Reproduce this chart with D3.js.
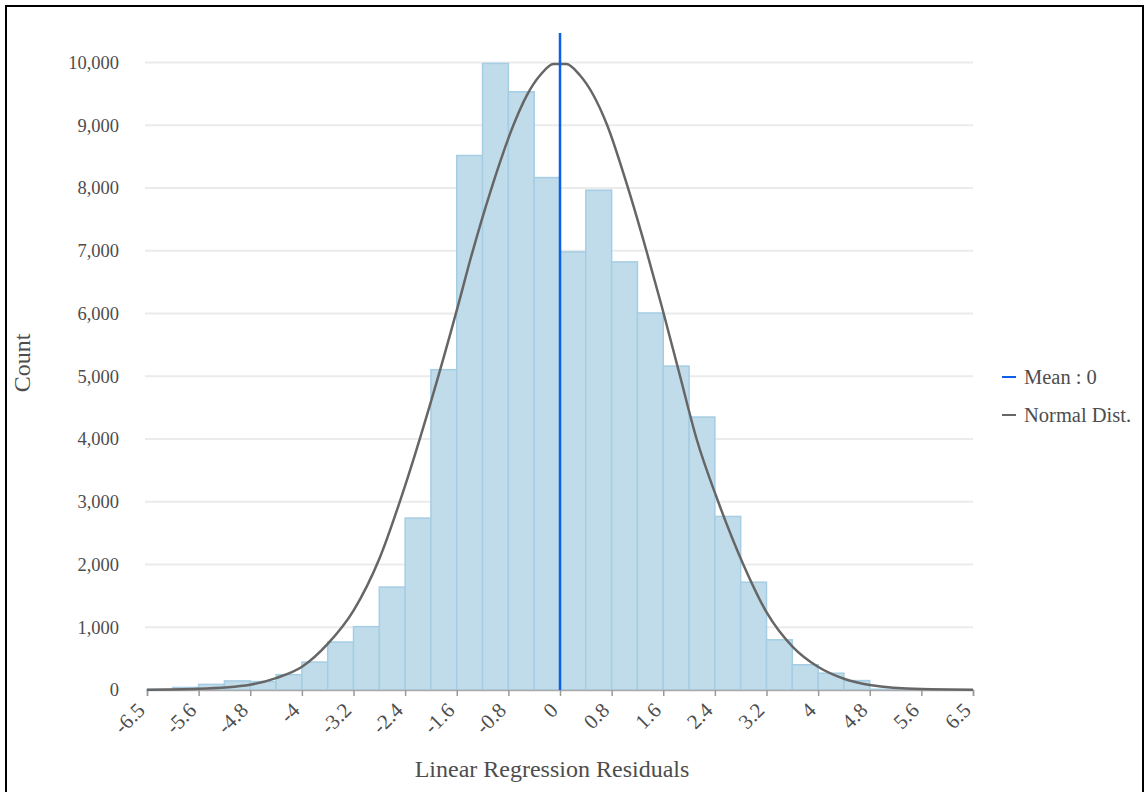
<!doctype html>
<html>
  <head>
    <meta charset="utf-8">
    <title>Linear Regression Residuals</title>
    <script src="https://cdn.jsdelivr.net/npm/d3@7"></script>
    <style>
      body { margin: 0; background: #fff; }
      text { font-family: "Liberation Serif", "Times New Roman", serif; fill: #4d4d4d; }
    </style>
  </head>
  <body>
    <div id="chart"></div>
  </body>
  <script>
    // histogram bins (edges) and counts
    var binEdges = [-6.5, -6.09375, -5.6875, -5.28125, -4.875, -4.46875, -4.0625, -3.65625,
      -3.25, -2.84375, -2.4375, -2.03125, -1.625, -1.21875, -0.8125, -0.40625, 0,
      0.40625, 0.8125, 1.21875, 1.625, 2.03125, 2.4375, 2.84375, 3.25, 3.65625,
      4.0625, 4.46875, 4.875, 5.28125, 5.6875, 6.09375, 6.5];
    var counts = [8, 40, 90, 145, 135, 245, 445, 765, 1010, 1640, 2740, 5105, 8518, 9985,
      9533, 8166, 6982, 7965, 6822, 6008, 5162, 4350, 2766, 1718, 800, 402, 268, 150,
      12, 4, 2, 1];

    // normal distribution curve
    var normX = [-6.5, -5.69, -4.875, -4.47, -4.06, -3.66, -3.25, -2.84, -2.44, -2.03,
      -1.625, -1.4, -1.09, -0.71, -0.52, -0.31, -0.1, 0.1, 0.31, 0.52, 0.735, 1.07,
      1.36, 1.6, 1.89, 2.15, 2.49, 2.885, 3.25, 3.67, 4.06, 4.48, 4.875, 5.69, 6.5];
    var normY = [5, 20, 85, 190, 370, 730, 1265, 2100, 3250, 4600, 6050, 6900, 7960,
      9060, 9480, 9800, 9975, 9975, 9800, 9490, 9020, 8000, 7000, 6120, 5000, 4000,
      3000, 2000, 1240, 680, 370, 175, 80, 15, 5];

    var meanValue = 0;

    var xTickValues = [-6.5, -5.6875, -4.875, -4.0625, -3.25, -2.4375, -1.625, -0.8125, 0,
      0.8125, 1.625, 2.4375, 3.25, 4.0625, 4.875, 5.6875, 6.5];
    var xTickLabels = ["-6.5", "-5.6", "-4.8", "-4", "-3.2", "-2.4", "-1.6", "-0.8", "0",
      "0.8", "1.6", "2.4", "3.2", "4", "4.8", "5.6", "6.5"];
    var yTickValues = [0, 1000, 2000, 3000, 4000, 5000, 6000, 7000, 8000, 9000, 10000];

    var legendItems = [
      { label: "Mean : 0", colour: "#0b5fe8" },
      { label: "Normal Dist.", colour: "#666666" }
    ];

    var width = 1146, height = 792;
    var margin = { left: 147, right: 173, top: 33, bottom: 102 };

    var svg = d3.select("#chart")
      .append("svg")
      .attr("width", width)
      .attr("height", height);

    // outer frame
    svg.append("rect")
      .attr("x", 6).attr("y", 6)
      .attr("width", 1137).attr("height", 800)
      .attr("fill", "none")
      .attr("stroke", "#000")
      .attr("stroke-width", 2);

    var x = d3.scaleLinear()
      .domain([-6.5, 6.5])
      .range([margin.left, width - margin.right]);

    var y = d3.scaleLinear()
      .domain([0, 10470])
      .range([height - margin.bottom, margin.top]);

    // gridlines
    svg.append("g")
      .selectAll("line")
      .data(yTickValues.slice(1))
      .enter()
      .append("line")
      .attr("x1", x(-6.5) - 2)
      .attr("x2", x(6.5))
      .attr("y1", function(d) { return y(d); })
      .attr("y2", function(d) { return y(d); })
      .attr("stroke", "#ebebeb")
      .attr("stroke-width", 2);

    // y axis labels
    var yAxis = d3.axisLeft(y)
      .tickValues(yTickValues)
      .tickFormat(d3.format(","))
      .tickSize(0)
      .tickPadding(28);

    var gy = svg.append("g")
      .attr("transform", "translate(" + x(-6.5) + ",0)")
      .call(yAxis);
    gy.select(".domain").remove();
    gy.selectAll("text")
      .style("font-size", "18.5px")
      .attr("fill", "#4d4d4d");

    // bars
    var bins = counts.map(function(c, i) {
      return { x0: binEdges[i], x1: binEdges[i + 1], count: c };
    });

    svg.append("g")
      .selectAll("rect")
      .data(bins)
      .enter()
      .append("rect")
      .attr("x", function(d) { return x(d.x0); })
      .attr("width", function(d) { return x(d.x1) - x(d.x0); })
      .attr("y", function(d) { return y(d.count); })
      .attr("height", function(d) { return y(0) - y(d.count); })
      .attr("fill", "#c0dcea")
      .attr("stroke", "#a5cde3")
      .attr("stroke-width", 1.5);

    // x axis
    var xAxis = d3.axisBottom(x)
      .tickValues(xTickValues)
      .tickFormat(function(d, i) { return xTickLabels[i]; })
      .tickSizeOuter(0)
      .tickSize(6);

    var gx = svg.append("g")
      .attr("transform", "translate(0," + y(0) + ")")
      .call(xAxis);
    gx.select(".domain").attr("stroke", "#aaaaaa").attr("stroke-width", 1.5);
    gx.selectAll(".tick line").attr("stroke", "#999999").attr("stroke-width", 1.5);
    gx.selectAll("text")
      .style("font-size", "21px")
      .attr("fill", "#4d4d4d")
      .attr("text-anchor", "end")
      .attr("dy", "0.35em")
      .attr("transform", "translate(-13,10) rotate(-45)");

    // normal curve
    var normData = normX.map(function(v, i) { return [v, normY[i]]; });
    var line = d3.line()
      .x(function(d) { return x(d[0]); })
      .y(function(d) { return y(d[1]); })
      .curve(d3.curveMonotoneX);

    svg.append("path")
      .datum(normData)
      .attr("d", line)
      .attr("fill", "none")
      .attr("stroke", "#666666")
      .attr("stroke-width", 2.5);

    // mean line
    svg.append("line")
      .attr("x1", x(meanValue)).attr("x2", x(meanValue))
      .attr("y1", y(0)).attr("y2", margin.top)
      .attr("stroke", legendItems[0].colour)
      .attr("stroke-width", 2.5);

    // axis titles
    svg.append("text")
      .attr("x", 552)
      .attr("y", 777)
      .attr("text-anchor", "middle")
      .style("font-size", "24px")
      .text("Linear Regression Residuals");

    svg.append("text")
      .attr("transform", "translate(30,363) rotate(-90)")
      .attr("text-anchor", "middle")
      .style("font-size", "24px")
      .text("Count");

    // legend
    var legend = svg.append("g")
      .selectAll("g")
      .data(legendItems)
      .enter()
      .append("g")
      .attr("transform", function(d, i) { return "translate(1002," + (377 + i * 38) + ")"; });

    legend.append("line")
      .attr("x1", 0).attr("x2", 14)
      .attr("y1", 0).attr("y2", 0)
      .attr("stroke", function(d) { return d.colour; })
      .attr("stroke-width", 2);

    legend.append("text")
      .attr("x", 22)
      .attr("dy", "0.35em")
      .style("font-size", "20.5px")
      .text(function(d) { return d.label; });
  </script>
</html>
